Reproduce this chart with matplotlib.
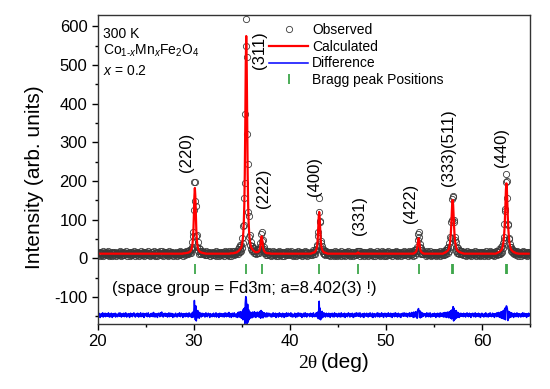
import numpy as np
import matplotlib
matplotlib.use("Agg")
import matplotlib.pyplot as plt
from matplotlib.ticker import MultipleLocator

plt.rcParams['font.family'] = ['Liberation Sans', 'DejaVu Sans']
plt.rcParams['mathtext.fontset'] = 'custom'
plt.rcParams['mathtext.rm'] = 'Liberation Sans'
plt.rcParams['mathtext.it'] = 'Liberation Sans:italic'
plt.rcParams['mathtext.bf'] = 'Liberation Sans:bold'
plt.rcParams['axes.unicode_minus'] = False

# scan 20..65 deg, step 0.05 deg (one row per degree)
i_calc = [
    12, 12, 12, 12, 12, 12, 12, 12, 12, 12, 12, 12, 12, 12, 12, 12, 12, 12, 12, 12,  # 20
    12, 12, 12, 12, 12, 12, 12, 12, 12, 12, 12, 12, 12, 12, 12, 12, 12, 12, 12, 12,  # 21
    12, 12, 12, 12, 12, 12, 12, 12, 12, 12, 12, 12, 12, 12, 12, 12, 12, 12, 12, 12,  # 22
    12, 12, 12, 12, 12, 12, 12, 12, 12, 12, 12, 12, 12, 12, 12, 12, 12, 12, 12, 12,  # 23
    12, 12, 12, 12, 12, 12, 12, 12, 12, 12, 12, 12, 12, 12, 12, 12, 12, 12, 12, 12,  # 24
    12, 12, 12, 12, 12, 12, 12, 12, 12, 12, 12, 12, 12, 12, 12, 12, 12, 12, 12, 12,  # 25
    12, 12, 12, 12, 12, 12, 12, 12, 12, 12, 12, 12, 12, 12, 12, 12, 12, 12, 12, 12,  # 26
    12, 12, 12, 12, 12, 12, 12, 12, 12, 12, 12, 12, 12, 12, 12, 12, 12, 12, 12, 12,  # 27
    12, 12, 12, 12, 12, 12, 12, 12, 12, 12, 12, 12, 12, 12, 12, 12, 12, 12, 13, 13,  # 28
    13, 13, 13, 13, 14, 14, 14, 14, 15, 15, 16, 16, 17, 19, 21, 24, 29, 37, 50, 74,  # 29
    112, 160, 182, 160, 112, 74, 50, 37, 29, 24, 21, 19, 17, 16, 16, 15, 15, 14, 14, 14,  # 30
    13, 13, 13, 13, 12, 12, 12, 12, 12, 12, 12, 12, 12, 12, 12, 12, 12, 12, 12, 12,  # 31
    12, 12, 12, 12, 12, 12, 12, 12, 12, 12, 12, 12, 12, 12, 12, 12, 12, 12, 12, 12,  # 32
    12, 12, 12, 12, 12, 12, 12, 12, 12, 12, 12, 12, 12, 12, 12, 12, 13, 13, 13, 13,  # 33
    13, 13, 13, 13, 14, 14, 14, 15, 15, 15, 16, 17, 18, 19, 20, 22, 23, 25, 27, 29,  # 34
    35, 42, 52, 68, 95, 138, 217, 343, 502, 575, 502, 343, 217, 138, 95, 68, 52, 42, 35, 29,  # 35
    27, 25, 23, 22, 20, 19, 18, 17, 16, 16, 16, 16, 16, 16, 17, 18, 19, 23, 29, 39,  # 36
    51, 57, 51, 39, 29, 23, 19, 18, 16, 15, 14, 14, 13, 13, 13, 13, 13, 13, 13, 12,  # 37
    12, 12, 12, 12, 12, 12, 12, 12, 12, 12, 12, 12, 12, 12, 12, 12, 12, 12, 12, 12,  # 38
    12, 12, 12, 12, 12, 12, 12, 12, 12, 12, 12, 12, 12, 12, 12, 12, 12, 12, 12, 12,  # 39
    12, 12, 12, 12, 12, 12, 12, 12, 12, 12, 12, 12, 12, 12, 12, 12, 12, 12, 12, 12,  # 40
    12, 12, 12, 12, 12, 12, 12, 12, 12, 12, 12, 12, 12, 12, 12, 12, 12, 12, 12, 12,  # 41
    12, 12, 12, 12, 12, 13, 13, 14, 14, 15, 15, 15, 16, 18, 20, 23, 28, 36, 51, 76,  # 42
    106, 120, 106, 76, 51, 36, 28, 23, 20, 18, 16, 15, 15, 15, 14, 14, 13, 13, 12, 12,  # 43
    12, 12, 12, 12, 12, 12, 12, 12, 12, 12, 12, 12, 12, 12, 12, 12, 12, 12, 12, 12,  # 44
    12, 12, 12, 12, 12, 12, 12, 12, 12, 12, 12, 12, 12, 12, 12, 12, 12, 12, 12, 12,  # 45
    12, 12, 12, 12, 12, 12, 12, 12, 12, 12, 12, 12, 12, 12, 12, 12, 12, 12, 12, 12,  # 46
    12, 14, 15, 14, 12, 12, 12, 12, 12, 12, 12, 12, 12, 12, 12, 12, 12, 12, 12, 12,  # 47
    12, 12, 12, 12, 12, 12, 12, 12, 12, 12, 12, 12, 12, 12, 12, 12, 12, 12, 12, 12,  # 48
    12, 12, 12, 12, 12, 12, 12, 12, 12, 12, 12, 12, 12, 12, 12, 12, 12, 12, 12, 12,  # 49
    12, 12, 12, 12, 12, 12, 12, 12, 12, 12, 12, 12, 12, 12, 12, 12, 12, 12, 12, 12,  # 50
    12, 12, 12, 12, 12, 12, 12, 12, 12, 12, 12, 12, 12, 12, 12, 12, 12, 12, 12, 12,  # 51
    12, 12, 12, 12, 12, 12, 12, 12, 12, 12, 12, 12, 12, 12, 12, 12, 12, 12, 13, 13,  # 52
    14, 15, 16, 18, 21, 27, 36, 47, 52, 47, 36, 27, 21, 18, 16, 15, 14, 13, 13, 12,  # 53
    12, 12, 12, 12, 12, 12, 12, 12, 12, 12, 12, 12, 12, 12, 12, 12, 12, 12, 12, 12,  # 54
    12, 12, 12, 12, 12, 12, 12, 12, 12, 12, 12, 12, 12, 12, 12, 12, 12, 12, 12, 12,  # 55
    13, 14, 14, 15, 15, 16, 17, 18, 19, 20, 22, 25, 30, 36, 46, 60, 82, 110, 139, 151,  # 56
    139, 110, 82, 60, 46, 36, 30, 25, 22, 20, 19, 18, 17, 16, 16, 15, 15, 14, 14, 13,  # 57
    13, 13, 12, 12, 12, 12, 12, 12, 12, 12, 12, 12, 12, 12, 12, 12, 12, 12, 12, 12,  # 58
    12, 12, 12, 12, 12, 12, 12, 12, 12, 12, 12, 12, 12, 12, 12, 12, 12, 12, 12, 12,  # 59
    12, 12, 12, 12, 12, 12, 12, 12, 12, 12, 12, 12, 12, 12, 12, 12, 12, 12, 12, 12,  # 60
    12, 12, 12, 12, 12, 12, 12, 12, 12, 12, 13, 13, 14, 15, 15, 16, 16, 17, 18, 20,  # 61
    21, 22, 25, 29, 36, 43, 57, 75, 104, 140, 178, 194, 178, 140, 104, 75, 57, 43, 36, 29,  # 62
    25, 22, 21, 20, 18, 17, 16, 16, 15, 15, 14, 13, 13, 13, 13, 12, 12, 12, 12, 12,  # 63
    12, 12, 12, 12, 12, 12, 12, 12, 12, 12, 12, 12, 12, 12, 12, 12, 12, 12, 12, 12,  # 64
    12,
]

# observed - calculated
i_diff = [
    3, -2, 5, -4, 1, -6, 2, 4, -3, 0, 6, -5, -1, 3, -2, 5, -4, 2, -1, 4,  # 20
    -3, 1, 6, -2, -5, 3, 0, -4, 5, 2, -6, 1, 4, -3, 2, -1, 5, -5, 3, 0,  # 21
    2, -4, -1, 5, 3, -3, 6, -2, 0, -5, 4, 1, -3, 2, 5, -4, 1, -2, 6, -1,  # 22
    -5, 3, 1, -2, 4, 0, -6, 2, 5, -3, -1, 4, -4, 3, 0, 6, -2, 1, -5, 2,  # 23
    4, -1, -3, 5, 2, -5, 3, 1, -2, 6, -4, 0, 2, -3, 5, 1, -6, 4, -1, 3,  # 24
    -2, 5, 0, -4, 3, 6, -3, 1, -5, 2, 4, -1, -3, 5, 0, -4, 7, -2, 2, -5,  # 25
    1, 4, -3, 2, -6, 3, 5, -1, 0, -4, 6, -2, 3, 8, -3, 1, -5, 4, 2, -2,  # 26
    5, -3, 2, -1, 4, -5, 0, 3, 6, -4, 1, -2, 5, -3, 2, 4, -6, 1, 3, -1,  # 27
    -4, 2, 5, -2, 1, -5, 3, 0, 4, -3, 6, -1, -4, 2, 5, -2, 3, -6, 1, 4,  # 28
    -1, 3, -4, 2, 5, -3, 0, 4, -5, 2, 6, -2, 1, -4, 3, 5, -6, 4, 8, -5,  # 29
    14, 38, 16, -12, 24, -15, 10, -7, 12, -5, 6, -8, 7, -3, 4, -5, 2, 5, -3, 1,  # 30
    4, -2, 3, -5, 1, 6, -3, 2, -4, 0, 5, -1, 3, -6, 2, 4, -2, 1, -4, 3,  # 31
    -3, 5, 1, -4, 2, -1, 6, -5, 3, 0, -2, 4, -6, 1, 5, -3, 2, -1, 4, -4,  # 32
    2, -1, 4, -5, 3, 6, -2, 0, -4, 5, 1, -3, 2, 7, -5, 3, -1, 4, -6, 2,  # 33
    5, -3, 1, -4, 6, -2, 3, 0, -5, 2, 4, -6, 7, -3, 8, -5, 2, 9, -7, 6,  # 34
    -8, 10, -12, 15, -10, 18, -22, 30, 48, 45, 20, -22, 28, -18, 14, -12, 9, -8, 7, -6,  # 35
    5, -7, 8, -4, 6, -5, 9, -3, 4, -6, 7, -2, 5, 8, -4, 6, -5, 7, 10, -8,  # 36
    12, 10, -6, 8, -7, 5, -4, 6, -3, 4, -5, 2, 6, -4, 3, -2, 5, -1, 4, -3,  # 37
    2, -5, 3, 1, -4, 6, -2, 4, -3, 0, 5, -6, 2, 3, -1, 4, -5, 1, 6, -2,  # 38
    -3, 4, 0, -5, 2, 5, -2, 3, -6, 1, 4, -1, -4, 6, 2, -3, 0, 5, -2, 3,  # 39
    4, -2, 6, -4, 1, 3, -5, 2, 0, -3, 5, 1, -6, 4, -1, 2, -4, 6, 3, -2,  # 40
    -1, 5, -3, 2, 4, -6, 0, 3, -2, 5, -4, 1, 6, -3, 2, -5, 4, 0, -1, 3,  # 41
    3, -4, 1, 5, -2, 0, 4, -5, 2, 6, -3, 1, -4, 3, 5, -2, 6, -5, 8, -9,  # 42
    14, 36, -10, 18, -12, 9, -8, 10, -6, 5, -4, 6, -3, 4, -5, 2, 5, -2, 3, -4,  # 43
    1, 5, -3, 2, -6, 4, 0, -2, 5, -4, 3, 1, -5, 6, -1, 2, -3, 4, 0, -5,  # 44
    3, -1, 5, -4, 2, 0, -5, 6, -2, 3, 1, -4, 4, -3, 5, -6, 2, 1, -2, 4,  # 45
    -4, 2, 6, -1, 3, -5, 1, 4, -3, 0, 5, -2, -6, 3, 2, -4, 5, 1, -3, 6,  # 46
    0, 4, -3, 5, -2, 1, 6, -5, 3, -1, 2, -4, 4, 0, -6, 5, -2, 3, 1, -3,  # 47
    5, -2, 1, -5, 4, 2, -3, 6, -1, 0, -4, 3, 5, -6, 2, -2, 4, 1, -5, 3,  # 48
    -2, 3, 6, -4, 0, 5, -1, -5, 3, 2, -3, 6, -2, 1, 4, -6, 3, 0, 5, -3,  # 49
    2, -5, 4, 1, -3, 6, -2, 3, 0, -4, 5, -1, 2, -6, 4, 3, -2, 5, -4, 1,  # 50
    6, -3, 0, 4, -5, 2, 5, -2, -4, 3, 1, -6, 4, 2, -1, 5, -3, 0, 6, -2,  # 51
    -3, 1, 5, -2, 3, -5, 4, 0, -1, 6, -4, 2, 5, -3, 7, -2, 4, -6, 8, 3,  # 52
    -5, 6, 9, -4, 7, -8, 12, 15, 17, 9, -6, 11, -7, 8, -5, 6, -4, 5, -3, 2,  # 53
    4, -1, 3, -5, 2, 6, -3, 0, 5, -4, 1, -2, 6, -5, 3, 2, -4, 1, 4, -3,  # 54
    0, 5, -3, 2, -6, 4, 1, -2, 5, -4, 3, 0, -5, 6, -1, 2, -3, 5, 3, -4,  # 55
    6, -5, 2, 7, -4, 5, -6, 3, 8, -5, 6, -7, 9, -6, 10, -8, 12, -10, 14, 8,  # 56
    22, -15, 18, -12, 10, -9, 12, -7, 8, -6, 7, -4, 5, -6, 3, -2, 5, -3, 4, -1,  # 57
    3, -4, 5, 1, -3, 4, -5, 2, 0, 6, -2, 3, -4, 1, 5, -3, 2, -6, 4, -1,  # 58
    -2, 5, 1, -4, 3, -1, 6, -5, 2, 0, 4, -3, -1, 5, -4, 2, 3, -6, 1, 4,  # 59
    5, -3, 2, 0, -5, 4, 1, -2, 6, -4, 3, -1, 2, -5, 4, 0, -3, 6, -2, 1,  # 60
    -4, 2, 5, -3, 1, 4, -6, 3, 0, -2, 5, -4, 6, -3, 2, 7, -5, 4, -6, 8,  # 61
    -7, 9, -8, 10, -9, 12, -10, 14, 18, -12, 20, 24, 22, 16, -14, 10, -8, 9, -6, 7,  # 62
    -5, 6, -4, 5, -3, 4, -6, 2, 5, -2, 3, -4, 1, 6, -3, 2, -5, 4, 0, -2,  # 63
    3, -5, 1, 4, -2, 6, -4, 0, 5, -3, 2, -1, 4, -6, 3, 1, -3, 5, -2, 4,  # 64
    -1,
]

bragg_pos = [30.10, 35.45, 37.05, 43.05, 47.10, 53.40, 56.88, 57.03, 62.48, 62.62]

hkl_labels = ['(220)', '(311)', '(222)', '(400)', '(331)', '(422)', '(333)(511)', '(440)']
hkl_x = [29.2, 36.85, 37.3, 42.6, 47.3, 52.6, 56.5, 62.05]
hkl_y = [275, 538, 182, 211, 112, 143, 286, 286]

two_theta = np.linspace(20, 65, len(i_calc))
calc = np.array(i_calc, dtype=float)
diff = np.array(i_diff, dtype=float)
obs = calc + diff
diff_offset = -147
bragg_y = -28

fig = plt.figure(figsize=(5.5, 3.89), dpi=100)
ax = fig.add_axes([0.178, 0.167, 0.7855, 0.794])

ax.plot(two_theta, obs, ls='none', marker='o', ms=4.5, mfc='none', mec='#3a3a3a', mew=0.6, label='Observed')
ax.plot(two_theta, calc, color='red', lw=1.6, label='Calculated')
ax.plot(two_theta, diff + diff_offset, color='blue', lw=1.1, label='Difference')
ax.plot(bragg_pos, [bragg_y] * len(bragg_pos), ls='none', marker='|', ms=7, mew=1.3, color='#3da64a', label='Bragg peak Positions')

for lab, x, y in zip(hkl_labels, hkl_x, hkl_y):
    ax.text(x, y, lab, rotation=90, ha='center', va='center', fontsize=12)

ax.text(21.5, -78, '(space group = Fd3m; a=8.402(3) !)', fontsize=12, va='center')

ax.text(0.012, 0.94, '300 K', transform=ax.transAxes, fontsize=10, va='center')
ax.text(0.012, 0.885, r'Co$_{1\text{-}x}$Mn$_x$Fe$_2$O$_4$', transform=ax.transAxes, fontsize=10, va='center')
ax.text(0.012, 0.82, r'$x$ = 0.2', transform=ax.transAxes, fontsize=10, va='center')

leg = ax.legend(loc='upper left', bbox_to_anchor=(0.39, 0.984), frameon=False, fontsize=10,
                handlelength=2.8, handletextpad=0.3, labelspacing=0.2, borderpad=0.2, borderaxespad=0)

ax.set_xlim(20, 65)
ax.set_ylim(-170, 629)
ax.xaxis.set_major_locator(MultipleLocator(10))
ax.xaxis.set_minor_locator(MultipleLocator(5))
ax.yaxis.set_major_locator(MultipleLocator(100))
ax.yaxis.set_minor_locator(MultipleLocator(50))
ax.tick_params(which='major', direction='out', length=4, width=1, labelsize=12, top=False, right=False)
ax.tick_params(which='minor', direction='out', length=2.5, width=1, top=False, right=False)
for s in ax.spines.values():
    s.set_color('#333333')
    s.set_linewidth(1)

ax.set_ylabel('Intensity (arb. units)', fontsize=15)
ax.yaxis.set_label_coords(-0.125, 0.476)
fig.text(0.576, 0.054, '2θ', family=['Liberation Serif', 'DejaVu Serif'], fontsize=14, ha='right', va='baseline')
fig.text(0.584, 0.054, '(deg)', fontsize=15, ha='left', va='baseline')

fig.savefig('out.png', dpi=100)
